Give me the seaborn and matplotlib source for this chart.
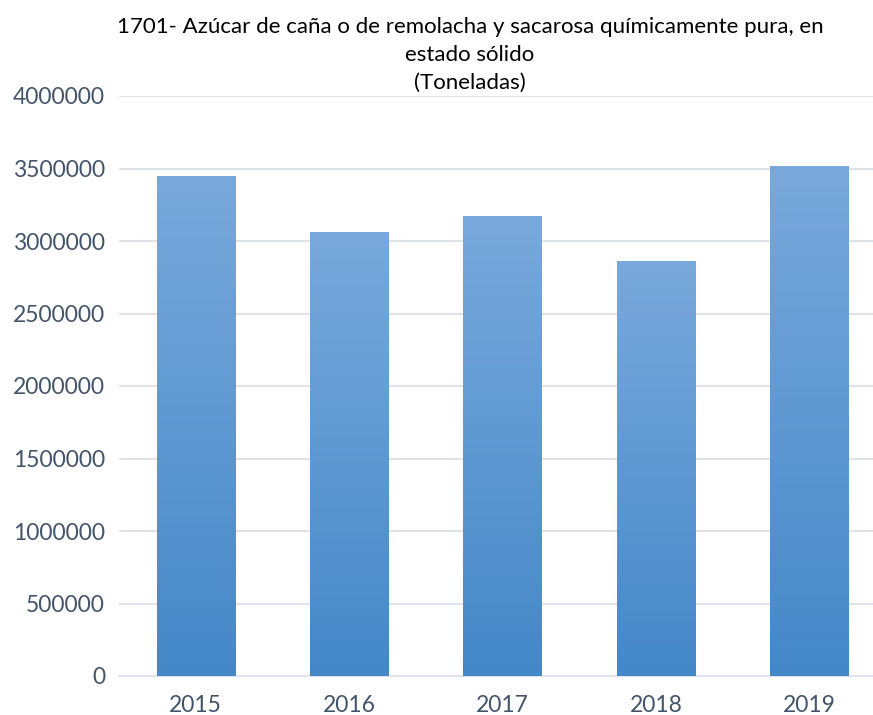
import numpy as np
import pandas as pd
import matplotlib
matplotlib.use("Agg")
import matplotlib.pyplot as plt
import seaborn as sns

years = ["2015", "2016", "2017", "2018", "2019"]
toneladas = [3445000, 3060000, 3170000, 2860000, 3515000]
y_ticks = [0, 500000, 1000000, 1500000, 2000000, 2500000, 3000000, 3500000, 4000000]
title = ("1701- Azúcar de caña o de remolacha y sacarosa químicamente pura, en\n"
         "estado sólido\n(Toneladas)")

sns.set_style("white")
plt.rcParams["font.family"] = ["Lato", "DejaVu Sans"]

df = pd.DataFrame({"year": years, "ton": toneladas})

fig = plt.figure(figsize=(8.73, 7.15), dpi=100)
ax = fig.add_axes([119 / 873, 1 - 676 / 715, 767 / 873, 580 / 715])

sns.barplot(data=df, x="year", y="ton", color="#5b9bd5", width=0.51,
            saturation=1, ax=ax, zorder=2)

# vertical gradient fill, clipped to each bar
grad = np.linspace(0, 1, 256).reshape(-1, 1)
cmap = matplotlib.colors.LinearSegmentedColormap.from_list("g", ["#4488c8", "#79a9dc"])
for bar in ax.patches:
    x0, y0 = bar.get_x(), bar.get_y()
    w, h = bar.get_width(), bar.get_height()
    im = ax.imshow(grad, cmap=cmap, aspect="auto", origin="lower",
                   extent=[x0, x0 + w, y0, y0 + h], zorder=3)
    im.set_clip_path(bar)
    bar.set_alpha(0)

ax.set_xlim(-0.5, len(years) - 0.5)
ax.set_ylim(0, 4000000)
ax.set_yticks(y_ticks)
ax.set_yticklabels([str(v) for v in y_ticks])
ax.yaxis.grid(True, color="#dfe3ea", linewidth=1.5, zorder=0)
ax.set_axisbelow(True)
for s in ["top", "right", "left"]:
    ax.spines[s].set_visible(False)
ax.spines["bottom"].set_color("#dfe3ea")
ax.spines["bottom"].set_linewidth(1.5)
ax.tick_params(axis="both", length=0, labelsize=16.5, labelcolor="#44546a")
ax.tick_params(axis="x", pad=14)
ax.tick_params(axis="y", pad=10)
ax.set_xlabel("")
ax.set_ylabel("")

fig.text(470 / 873, 1 - 17 / 715, title, ha="center", va="top",
         fontsize=16, color="black", linespacing=1.5)

plt.savefig("out.png", dpi=100)
